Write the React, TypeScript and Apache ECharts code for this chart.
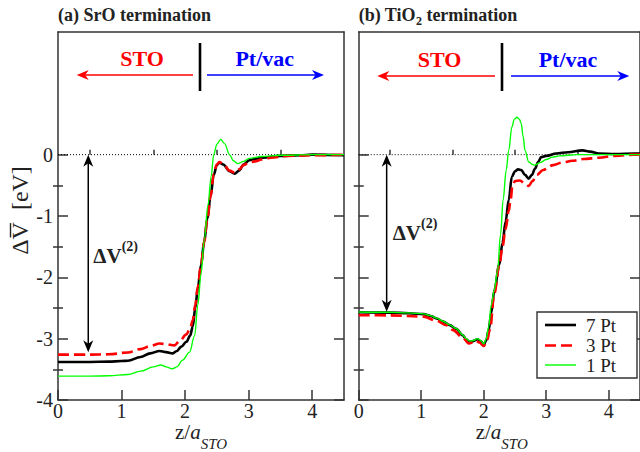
import { useEffect, useRef } from 'react';
import * as echarts from 'echarts';

const FONT = '"Liberation Serif", "Times New Roman", Times, serif';
const AX = '#333';
const TXT = '#222';

const X_MIN = 0;
const X_MAX = 4.5;
const Y_MIN = -4;
const Y_MAX = 2;
const xTickValues = [0, 1, 2, 3, 4];
const xMinorValues = [0.5, 1.5, 2.5, 3.5];
const yTickValues = [-4, -3, -2, -1, 0];
const yMinorValues = [-3.5, -2.5, -1.5, -0.5];

const seriesNames = ['7 Pt', '3 Pt', '1 Pt'];
const seriesColors = ['#000000', '#ff0000', '#00ff00'];

// (a) SrO termination
const a7z = [0, 0.5, 0.8, 1.0, 1.1, 1.3, 1.45, 1.6, 1.7, 1.8, 1.87, 1.94, 2.02, 2.08, 2.12, 2.16, 2.2, 2.25, 2.3, 2.35, 2.4, 2.45, 2.5, 2.54, 2.6, 2.7, 2.78, 2.85, 2.92, 3.01, 3.1, 3.22, 3.5, 3.8, 4.0, 4.5];
const a7v = [-3.38, -3.38, -3.375, -3.365, -3.36, -3.30, -3.24, -3.20, -3.22, -3.24, -3.20, -3.13, -3.05, -2.95, -2.80, -2.50, -2.18, -1.80, -1.42, -1.05, -0.68, -0.33, -0.17, -0.13, -0.16, -0.27, -0.31, -0.26, -0.16, -0.09, -0.07, -0.05, -0.02, -0.01, 0, -0.01];
const a3z = [0, 0.5, 0.8, 1.1, 1.3, 1.45, 1.6, 1.7, 1.83, 1.92, 2.02, 2.08, 2.12, 2.16, 2.2, 2.25, 2.3, 2.35, 2.4, 2.45, 2.5, 2.54, 2.6, 2.7, 2.78, 2.85, 2.92, 3.0, 3.1, 3.2, 3.35, 3.6, 4.0, 4.5];
const a3v = [-3.26, -3.26, -3.255, -3.225, -3.17, -3.12, -3.08, -3.09, -3.11, -3.03, -2.93, -2.83, -2.70, -2.45, -2.15, -1.80, -1.42, -1.05, -0.68, -0.31, -0.16, -0.12, -0.15, -0.26, -0.29, -0.24, -0.17, -0.13, -0.11, -0.08, -0.05, -0.02, -0.01, 0];
const a1z = [0, 0.5, 0.8, 1.1, 1.3, 1.5, 1.62, 1.7, 1.8, 1.87, 1.96, 2.07, 2.15, 2.2, 2.25, 2.3, 2.36, 2.41, 2.45, 2.5, 2.56, 2.62, 2.7, 2.76, 2.83, 2.92, 3.01, 3.2, 3.5, 4.0, 4.5];
const a1v = [-3.61, -3.61, -3.605, -3.585, -3.53, -3.46, -3.43, -3.46, -3.49, -3.46, -3.35, -3.22, -2.95, -2.45, -1.95, -1.40, -0.82, -0.35, 0.0, 0.17, 0.25, 0.18, 0.0, -0.10, -0.145, -0.11, -0.06, -0.03, -0.01, 0, 0];

// (b) TiO2 termination
const b7z = [0, 0.5, 0.8, 1.04, 1.15, 1.245, 1.35, 1.455, 1.56, 1.66, 1.72, 1.77, 1.83, 1.9, 1.95, 2.0, 2.04, 2.08, 2.12, 2.17, 2.25, 2.3, 2.35, 2.4, 2.45, 2.5, 2.55, 2.6, 2.66, 2.72, 2.77, 2.82, 2.87, 2.92, 3.0, 3.16, 3.35, 3.58, 3.7, 3.84, 4.1, 4.42, 4.5];
const b7v = [-2.57, -2.575, -2.585, -2.60, -2.63, -2.67, -2.72, -2.78, -2.84, -2.94, -3.01, -3.05, -3.04, -3.01, -3.04, -3.095, -3.03, -2.86, -2.58, -2.21, -1.79, -1.44, -1.09, -0.74, -0.36, -0.27, -0.24, -0.25, -0.33, -0.39, -0.33, -0.23, -0.12, -0.04, -0.02, 0.02, 0.04, 0.07, 0.05, 0.02, 0.01, 0.02, 0.02];
const b3z = [0, 0.5, 1.04, 1.245, 1.4, 1.51, 1.65, 1.77, 1.82, 1.87, 1.93, 2.0, 2.05, 2.1, 2.17, 2.25, 2.3, 2.35, 2.4, 2.43, 2.46, 2.5, 2.58, 2.65, 2.72, 2.78, 2.85, 2.95, 3.11, 3.25, 3.42, 3.6, 3.84, 4.1, 4.4, 4.5];
const b3v = [-2.617, -2.62, -2.64, -2.71, -2.78, -2.86, -2.97, -3.08, -3.06, -3.03, -3.06, -3.12, -3.04, -2.85, -2.26, -1.80, -1.50, -1.21, -0.92, -0.74, -0.50, -0.43, -0.42, -0.47, -0.51, -0.43, -0.33, -0.25, -0.17, -0.13, -0.10, -0.07, -0.05, -0.02, 0, 0];
const b1z = [0, 0.5, 0.8, 1.04, 1.15, 1.245, 1.35, 1.455, 1.56, 1.66, 1.72, 1.77, 1.83, 1.9, 1.95, 2.0, 2.04, 2.08, 2.12, 2.17, 2.22, 2.27, 2.31, 2.36, 2.4, 2.45, 2.49, 2.53, 2.57, 2.6, 2.63, 2.66, 2.72, 2.78, 2.82, 2.9, 3.0, 3.1, 3.21, 3.5, 4.0, 4.5];
const b1v = [-2.565, -2.57, -2.58, -2.595, -2.625, -2.665, -2.715, -2.775, -2.835, -2.935, -3.0, -3.04, -3.03, -3.0, -3.03, -3.085, -3.0, -2.80, -2.45, -2.20, -1.90, -1.30, -0.74, -0.25, 0.07, 0.45, 0.58, 0.61, 0.58, 0.51, 0.30, 0.07, -0.12, -0.16, -0.17, -0.13, -0.08, -0.04, -0.02, 0, 0, 0];

// Delta V(2) annotation arrows (data coordinates): z position, bottom value
const dvArrowZ = [0.476, 0.44];
const dvArrowBottom = [-3.22, -2.56];

const GRIDS = [
  { left: 58, top: 32, width: 286, height: 368 },
  { left: 358.7, top: 32, width: 286, height: 368 },
];

const zip = (xs: number[], ys: number[]) => xs.map((x, i) => [x, ys[i]]);

let measureCtx: CanvasRenderingContext2D | null = null;
function textWidth(t: string, font: string) {
  if (!measureCtx) measureCtx = document.createElement('canvas').getContext('2d');
  measureCtx!.font = font;
  return measureCtx!.measureText(t).width;
}

type Run = { t: string; size: number; bold?: boolean; italic?: boolean; dy?: number; color?: string };
const fontOf = (r: Run) => `${r.italic ? 'italic ' : ''}${r.bold ? 'bold ' : ''}${r.size}px ${FONT}`;
const runsWidth = (parts: Run[]) => parts.reduce((s, p) => s + textWidth(p.t, fontOf(p)), 0);
function runs(x0: number, base: number, parts: Run[], center = false) {
  let x = center ? x0 - runsWidth(parts) / 2 : x0;
  const out: any[] = [];
  for (const p of parts) {
    const f = fontOf(p);
    out.push({
      type: 'text', x, y: base + (p.dy || 0) - 0.34 * p.size, z: 100,
      style: { text: p.t, font: f, fill: p.color || TXT, align: 'left', verticalAlign: 'middle', lineHeight: Math.round(p.size * 0.75) },
    });
    x += textWidth(p.t, f);
  }
  return out;
}

function toPx(gi: number, x: number, y: number) {
  const g = GRIDS[gi];
  return [g.left + ((x - X_MIN) / (X_MAX - X_MIN)) * g.width, g.top + ((Y_MAX - y) / (Y_MAX - Y_MIN)) * g.height];
}

function arrowHead(tx: number, ty: number, dx: number, dy: number, color: string, len = 12, half = 5, notch = 3.5) {
  const bx = tx - dx * len, by = ty - dy * len;
  const px = -dy, py = dx;
  return {
    type: 'polygon', z: 100,
    shape: { points: [[tx, ty], [bx + px * half, by + py * half], [tx - dx * (len - notch), ty - dy * (len - notch)], [bx - px * half, by - py * half]] },
    style: { fill: color },
  };
}
const seg = (x1: number, y1: number, x2: number, y2: number, color: string, w: number, dash?: number[]) => ({
  type: 'line', z: 100, shape: { x1, y1, x2, y2 }, style: { stroke: color, lineWidth: w, lineDash: dash },
});

function axesFor(gi: number) {
  const line = { show: true, onZero: false, lineStyle: { color: AX, width: 1.5 } };
  const tickStyle = { color: AX, width: 1.5 };
  const label = { fontSize: 20, fontFamily: FONT, color: TXT, lineHeight: 14 };
  const base = { gridIndex: gi, type: 'value', splitLine: { show: false } };
  const xAxes = [
    { ...base, min: X_MIN, max: X_MAX, position: 'bottom', axisLine: line,
      axisTick: { show: true, inside: true, length: 10, customValues: xTickValues, lineStyle: tickStyle },
      axisLabel: { show: true, customValues: xTickValues, margin: 4, ...label } },
    { ...base, min: X_MIN, max: X_MAX, position: 'bottom', axisLine: { show: false },
      axisTick: { show: true, inside: true, length: 5, customValues: xMinorValues, lineStyle: tickStyle },
      axisLabel: { show: false } },
    { ...base, min: X_MIN, max: X_MAX, position: 'top', axisLine: line, axisTick: { show: false }, axisLabel: { show: false } },
  ];
  const yAxes = [
    { ...base, min: Y_MIN, max: Y_MAX, position: 'left', axisLine: line,
      axisTick: { show: true, inside: true, length: 10, customValues: yTickValues, lineStyle: tickStyle },
      axisLabel: { show: gi === 0, customValues: yTickValues, margin: 5, ...label } },
    { ...base, min: Y_MIN, max: Y_MAX, position: 'left', axisLine: { show: false },
      axisTick: { show: true, inside: true, length: 5, customValues: yMinorValues, lineStyle: tickStyle },
      axisLabel: { show: false } },
    { ...base, min: Y_MIN, max: Y_MAX, position: 'right', axisLine: line,
      axisTick: { show: true, inside: true, length: 10, customValues: yTickValues, lineStyle: tickStyle },
      axisLabel: { show: false } },
    { ...base, min: Y_MIN, max: Y_MAX, position: 'right', axisLine: { show: false },
      axisTick: { show: true, inside: true, length: 5, customValues: yMinorValues, lineStyle: tickStyle },
      axisLabel: { show: false } },
  ];
  return { xAxes, yAxes };
}

function buildOption() {
  const panels = [
    [zip(a7z, a7v), zip(a3z, a3v), zip(a1z, a1v)],
    [zip(b7z, b7v), zip(b3z, b3v), zip(b1z, b1v)],
  ];
  const lineStyles = [
    { width: 2.6, type: 'solid' },
    { width: 2.6, type: [11, 5] },
    { width: 1.4, type: 'solid' },
  ];
  const xAxis: any[] = [];
  const yAxis: any[] = [];
  const series: any[] = [];
  [0, 1].forEach((gi) => {
    const { xAxes, yAxes } = axesFor(gi);
    xAxis.push(...xAxes);
    yAxis.push(...yAxes);
    series.push({
      type: 'line', xAxisIndex: gi * 3, yAxisIndex: gi * 4, data: [[X_MIN, 0], [X_MAX, 0]],
      symbol: 'none', silent: true, z: 1, lineStyle: { color: '#000', width: 1, type: [1, 2] },
    });
    panels[gi].forEach((data, si) => {
      series.push({
        name: seriesNames[si], type: 'line', xAxisIndex: gi * 3, yAxisIndex: gi * 4, data,
        symbol: 'none', smooth: 0.35, smoothMonotone: 'x', z: 2 + si, clip: true,
        lineStyle: { color: seriesColors[si], ...lineStyles[si], cap: 'butt' },
      });
    });
  });

  const graphic: any[] = [];
  // titles
  graphic.push(...runs(GRIDS[0].left, 20.7, [{ t: '(a) SrO termination', size: 18, bold: true }]));
  graphic.push(...runs(GRIDS[1].left, 20.7, [
    { t: '(b) TiO', size: 18, bold: true },
    { t: '2', size: 12, bold: true, dy: 4 },
    { t: ' termination', size: 18, bold: true },
  ]));
  // STO / Pt/vac headers
  const hdr = [
    { red: [193, 80, 76.7], blue: [207, 320, 324], bar: 200, y: 75, sto: 142, pt: 264.7, base: 65.5 },
    { red: [495, 381, 377.3], blue: [511, 625, 629.3], bar: 502, y: 76, sto: 439.5, pt: 568, base: 66.5 },
  ];
  hdr.forEach((h) => {
    graphic.push(seg(h.red[0], h.y, h.red[1], h.y, '#ff0000', 1.5));
    graphic.push(arrowHead(h.red[2], h.y, -1, 0, '#ff0000'));
    graphic.push(seg(h.blue[0], h.y, h.blue[1], h.y, '#0000ff', 1.5));
    graphic.push(arrowHead(h.blue[2], h.y, 1, 0, '#0000ff'));
    graphic.push(seg(h.bar, 43, h.bar, 91, '#000', 2.6));
    graphic.push(...runs(h.sto, h.base, [{ t: 'STO', size: 22, bold: true, color: '#ff0000' }], true));
    graphic.push(...runs(h.pt, h.base, [{ t: 'Pt/vac', size: 22, bold: true, color: '#0000ff' }], true));
  });
  // Delta V(2) arrows and labels
  [0, 1].forEach((gi) => {
    const [ax, ay0] = toPx(gi, dvArrowZ[gi], 0);
    const [, ay1] = toPx(gi, dvArrowZ[gi], dvArrowBottom[gi]);
    graphic.push(seg(ax, ay0 + 8, ax, ay1 - 8, '#000', 1.5));
    graphic.push(arrowHead(ax, ay0, 0, -1, '#000'));
    graphic.push(arrowHead(ax, ay1, 0, 1, '#000'));
  });
  graphic.push(...runs(93.3, 263.3, [
    { t: '\u0394V', size: 21, bold: true, color: '#222' },
    { t: '(2)', size: 14, bold: true, dy: -12, color: '#222' },
  ]));
  graphic.push(...runs(392.7, 240, [
    { t: '\u0394V', size: 21, bold: true, color: '#222' },
    { t: '(2)', size: 14, bold: true, dy: -12, color: '#222' },
  ]));
  // x axis names
  [0, 1].forEach((gi) => {
    const g = GRIDS[gi];
    graphic.push(...runs(g.left + g.width / 2, 439, [
      { t: 'z/', size: 21 },
      { t: 'a', size: 21, italic: true },
      { t: 'STO', size: 15, italic: true, dy: 10 },
    ], true));
  });
  // y axis name (rotated)
  {
    const size = 24;
    const f = fontOf({ t: '', size });
    const parts = ['\u0394', 'V', '  [eV]'];
    const widths = parts.map((p) => textWidth(p, f));
    const total = widths.reduce((a, b) => a + b, 0);
    let x = -total / 2;
    const children: any[] = [];
    parts.forEach((p, i) => {
      children.push({ type: 'text', x, y: 0, style: { text: p, font: f, fill: TXT, align: 'left', verticalAlign: 'middle', lineHeight: 18 } });
      if (p === 'V') {
        children.push({ type: 'line', shape: { x1: x + 2, y1: -9.5, x2: x + widths[i] - 1, y2: -9.5 }, style: { stroke: TXT, lineWidth: 1.4 } });
      }
      x += widths[i];
    });
    graphic.push({ type: 'group', x: 20, y: 210.5, rotation: Math.PI / 2, z: 100, children });
  }
  // legend box
  {
    const lx = 537, ly = 312, lw = 100, lh = 66;
    graphic.push({ type: 'rect', z: 99, shape: { x: lx, y: ly, width: lw, height: lh }, style: { fill: '#fff', stroke: AX, lineWidth: 1.4 } });
    const rows = [325, 345.5, 365];
    const dashes = [undefined, [11, 5], undefined];
    const widths = [2.6, 2.6, 1.4];
    rows.forEach((ry, i) => {
      graphic.push(seg(545, ry, 576, ry, seriesColors[i], widths[i], dashes[i]));
      graphic.push(...runs(586, ry + 6.5, [{ t: seriesNames[i], size: 19 }]));
    });
  }

  return {
    animation: false,
    backgroundColor: '#ffffff',
    grid: GRIDS.map((g) => ({ ...g, containLabel: false })),
    xAxis,
    yAxis,
    series,
    graphic,
  };
}

export default function App() {
  const ref = useRef<HTMLDivElement>(null);
  useEffect(() => {
    document.body.style.margin = '0';
    const chart = echarts.init(ref.current!, null, { renderer: 'svg' });
    chart.setOption(buildOption() as any);
    return () => chart.dispose();
  }, []);
  return <div ref={ref} style={{ position: 'absolute', left: 0, top: 0, width: 640, height: 452 }} />;
}
